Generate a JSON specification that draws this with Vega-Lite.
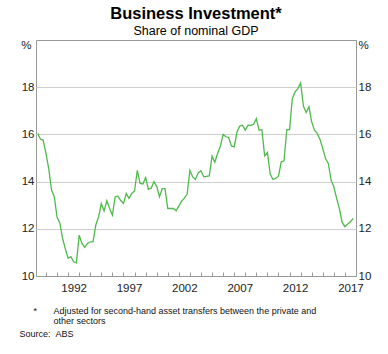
{
  "$schema": "https://vega.github.io/schema/vega-lite/v6.json",
  "width": 320,
  "height": 236,
  "autosize": {"type": "none"},
  "padding": {"left": 36, "top": 40, "right": 32, "bottom": 78},
  "background": "white",
  "config": {
    "view": {"stroke": "#999", "strokeWidth": 1},
    "font": "Liberation Sans"
  },
  "title": {
    "text": "Business Investment*",
    "subtitle": "Share of nominal GDP",
    "anchor": "middle",
    "font": "Liberation Sans",
    "fontSize": 16.5,
    "fontWeight": "bold",
    "color": "#000",
    "subtitleFont": "Liberation Sans",
    "subtitleFontSize": 12.5,
    "subtitleColor": "#000",
    "subtitlePadding": 2,
    "offset": 2
  },
  "data": {
    "values": [
      {"t": 1989.25, "v": 16.04}, {"t": 1989.5, "v": 15.8}, {"t": 1989.75, "v": 15.75}, {"t": 1990, "v": 15.2},
      {"t": 1990.25, "v": 14.55}, {"t": 1990.5, "v": 13.64}, {"t": 1990.75, "v": 13.36}, {"t": 1991, "v": 12.5},
      {"t": 1991.25, "v": 12.25}, {"t": 1991.5, "v": 11.6}, {"t": 1991.75, "v": 11.15}, {"t": 1992, "v": 10.75},
      {"t": 1992.25, "v": 10.82}, {"t": 1992.5, "v": 10.6}, {"t": 1992.75, "v": 10.56}, {"t": 1993, "v": 11.73},
      {"t": 1993.25, "v": 11.38}, {"t": 1993.5, "v": 11.21}, {"t": 1993.75, "v": 11.38}, {"t": 1994, "v": 11.45},
      {"t": 1994.25, "v": 11.45}, {"t": 1994.5, "v": 12.16}, {"t": 1994.75, "v": 12.5}, {"t": 1995, "v": 13.07},
      {"t": 1995.25, "v": 12.76}, {"t": 1995.5, "v": 13.19}, {"t": 1995.75, "v": 12.86}, {"t": 1996, "v": 12.58},
      {"t": 1996.25, "v": 13.36}, {"t": 1996.5, "v": 13.38}, {"t": 1996.75, "v": 13.2}, {"t": 1997, "v": 13.07},
      {"t": 1997.25, "v": 13.5}, {"t": 1997.5, "v": 13.29}, {"t": 1997.75, "v": 13.5}, {"t": 1998, "v": 13.6},
      {"t": 1998.25, "v": 14.48}, {"t": 1998.5, "v": 13.92}, {"t": 1998.75, "v": 13.9}, {"t": 1999, "v": 14.17},
      {"t": 1999.25, "v": 13.67}, {"t": 1999.5, "v": 13.72}, {"t": 1999.75, "v": 14.0}, {"t": 2000, "v": 13.8},
      {"t": 2000.25, "v": 13.36}, {"t": 2000.5, "v": 13.7}, {"t": 2000.75, "v": 13.7}, {"t": 2001, "v": 12.86},
      {"t": 2001.25, "v": 12.86}, {"t": 2001.5, "v": 12.86}, {"t": 2001.75, "v": 12.76}, {"t": 2002, "v": 12.96},
      {"t": 2002.25, "v": 13.17}, {"t": 2002.5, "v": 13.3}, {"t": 2002.75, "v": 13.47}, {"t": 2003, "v": 14.48},
      {"t": 2003.25, "v": 14.2}, {"t": 2003.5, "v": 14.09}, {"t": 2003.75, "v": 14.37}, {"t": 2004, "v": 14.46},
      {"t": 2004.25, "v": 14.2}, {"t": 2004.5, "v": 14.22}, {"t": 2004.75, "v": 14.24}, {"t": 2005, "v": 15.08},
      {"t": 2005.25, "v": 14.82}, {"t": 2005.5, "v": 15.19}, {"t": 2005.75, "v": 15.5}, {"t": 2006, "v": 16.0},
      {"t": 2006.25, "v": 15.9}, {"t": 2006.5, "v": 15.87}, {"t": 2006.75, "v": 15.51}, {"t": 2007, "v": 15.47},
      {"t": 2007.25, "v": 16.1}, {"t": 2007.5, "v": 16.35}, {"t": 2007.75, "v": 16.39}, {"t": 2008, "v": 16.18},
      {"t": 2008.25, "v": 16.39}, {"t": 2008.5, "v": 16.38}, {"t": 2008.75, "v": 16.43}, {"t": 2009, "v": 16.67},
      {"t": 2009.25, "v": 16.18}, {"t": 2009.5, "v": 16.2}, {"t": 2009.75, "v": 15.09}, {"t": 2010, "v": 15.23},
      {"t": 2010.25, "v": 14.32}, {"t": 2010.5, "v": 14.09}, {"t": 2010.75, "v": 14.13}, {"t": 2011, "v": 14.23},
      {"t": 2011.25, "v": 14.84}, {"t": 2011.5, "v": 14.88}, {"t": 2011.75, "v": 16.2}, {"t": 2012, "v": 16.2},
      {"t": 2012.25, "v": 17.52}, {"t": 2012.5, "v": 17.8}, {"t": 2012.75, "v": 17.94}, {"t": 2013, "v": 18.18},
      {"t": 2013.25, "v": 17.2}, {"t": 2013.5, "v": 16.93}, {"t": 2013.75, "v": 17.17}, {"t": 2014, "v": 16.53},
      {"t": 2014.25, "v": 16.18}, {"t": 2014.5, "v": 16.04}, {"t": 2014.75, "v": 15.78}, {"t": 2015, "v": 15.4},
      {"t": 2015.25, "v": 14.98}, {"t": 2015.5, "v": 14.77}, {"t": 2015.75, "v": 14.06}, {"t": 2016, "v": 13.78},
      {"t": 2016.25, "v": 13.29}, {"t": 2016.5, "v": 12.86}, {"t": 2016.75, "v": 12.27}, {"t": 2017, "v": 12.09},
      {"t": 2017.25, "v": 12.2}, {"t": 2017.5, "v": 12.3}, {"t": 2017.75, "v": 12.44}
    ]
  },
  "resolve": {"axis": {"x": "independent", "y": "independent"}},
  "layer": [
    {
      "mark": {"type": "line", "color": "#4fba4c", "strokeWidth": 1.3, "clip": true},
      "encoding": {
        "x": {
          "field": "t", "type": "quantitative",
          "scale": {"domain": [1989.1, 2018], "nice": false, "zero": false},
          "axis": {
            "orient": "bottom",
            "values": [1992.5, 1997.5, 2002.5, 2007.5, 2012.5, 2017.5],
            "labelExpr": "floor(datum.value)",
            "ticks": false, "domain": false, "grid": false,
            "labelFlush": false, "labelOverlap": false, "labelBound": false,
            "labelFont": "Liberation Sans", "labelFontSize": 11.5, "labelColor": "#222",
            "labelPadding": 6,
            "title": ["Adjusted for second-hand asset transfers between the private and", "other sectors"],
            "titleFont": "Liberation Sans", "titleFontSize": 9, "titleFontWeight": "normal", "titleColor": "#111",
            "titleAlign": "left", "titleAnchor": "start", "titleBaseline": "alphabetic",
            "titleX": 17, "titleY": 37, "titleLineHeight": 10
          }
        },
        "y": {
          "field": "v", "type": "quantitative",
          "scale": {"domain": [10, 20], "nice": false, "zero": false},
          "axis": {
            "orient": "left",
            "values": [10, 12, 14, 16, 18],
            "grid": true, "gridColor": "#cfcfcf", "gridWidth": 1,
            "ticks": false, "domain": false,
            "labelFont": "Liberation Sans", "labelFontSize": 11.5, "labelColor": "#222",
            "labelPadding": 2,
            "title": "%", "titleAngle": 0, "titleFont": "Liberation Sans", "titleFontSize": 11.5,
            "titleFontWeight": "normal", "titleColor": "#222",
            "titleAlign": "right", "titleBaseline": "middle", "titleX": -5, "titleY": 5
          }
        }
      }
    },
    {
      "mark": {"type": "line", "opacity": 0},
      "encoding": {
        "x": {
          "field": "t", "type": "quantitative",
          "axis": {
            "orient": "bottom",
            "values": [1990, 1991, 1992, 1993, 1994, 1995, 1996, 1997, 1998, 1999, 2000, 2001, 2002, 2003, 2004, 2005, 2006, 2007, 2008, 2009, 2010, 2011, 2012, 2013, 2014, 2015, 2016, 2017],
            "labels": false, "grid": false,
            "ticks": true, "tickSize": -4, "tickColor": "#999", "tickWidth": 1,
            "domain": true, "domainColor": "#999", "domainWidth": 1,
            "zindex": 1,
            "title": "*",
            "titleFont": "Liberation Sans", "titleFontSize": 9, "titleFontWeight": "normal", "titleColor": "#111",
            "titleAlign": "left", "titleAnchor": "start", "titleBaseline": "alphabetic",
            "titleX": -3, "titleY": 37
          }
        },
        "y": {
          "field": "v", "type": "quantitative",
          "axis": {
            "orient": "right",
            "values": [10, 12, 14, 16, 18],
            "grid": false, "ticks": false, "domain": false,
            "labelFont": "Liberation Sans", "labelFontSize": 11.5, "labelColor": "#222",
            "labelPadding": 2,
            "title": "%", "titleAngle": 0, "titleFont": "Liberation Sans", "titleFontSize": 11.5,
            "titleFontWeight": "normal", "titleColor": "#222",
            "titleAlign": "left", "titleBaseline": "middle", "titleX": 2, "titleY": 5
          }
        }
      }
    },
    {
      "mark": {"type": "line", "opacity": 0},
      "encoding": {
        "x": {
          "field": "t", "type": "quantitative",
          "axis": {
            "orient": "bottom",
            "labels": false, "ticks": false, "domain": false, "grid": false,
            "title": "Source:\u00a0\u00a0ABS",
            "titleFont": "Liberation Sans", "titleFontSize": 9, "titleFontWeight": "normal", "titleColor": "#111",
            "titleAlign": "left", "titleAnchor": "start", "titleBaseline": "alphabetic",
            "titleX": -17, "titleY": 60
          }
        },
        "y": {"field": "v", "type": "quantitative", "axis": null}
      }
    }
  ]
}
